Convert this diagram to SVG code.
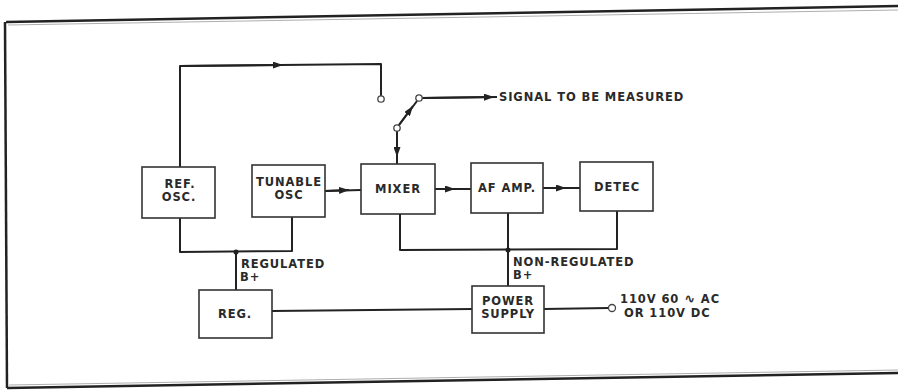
<svg xmlns="http://www.w3.org/2000/svg" width="898" height="390" viewBox="0 0 898 390">
<defs>
<marker id="arr" viewBox="0 0 10 10" refX="10" refY="5" markerWidth="10" markerHeight="7" orient="auto" markerUnits="userSpaceOnUse" preserveAspectRatio="none">
<path d="M0,0 L10,5 L0,10 Z" fill="#222"/>
</marker>
<style>
.box{fill:#fff;stroke:#333;stroke-width:1.6}
.w{fill:none;stroke:#222;stroke-width:2;stroke-linejoin:round}
.t{font-family:"DejaVu Sans","Liberation Sans",sans-serif;font-size:11.5px;font-weight:bold;fill:#2a2a2a;letter-spacing:0.9px}
.c{text-anchor:middle}
.term{fill:#fff;stroke:#444;stroke-width:1.3}
</style>
</defs>
<rect width="898" height="390" fill="#fff"/>
<g id="frame">
<path d="M6,22 L898,6" stroke="#222" stroke-width="2.5" fill="none"/>
<path d="M8,25 L898,10" stroke="#999" stroke-width="0.8" fill="none"/>
<path d="M5,22 L7,388" stroke="#222" stroke-width="2.5" fill="none"/>
<path d="M7,388 L898,373" stroke="#222" stroke-width="2.5" fill="none"/>
<path d="M9,385 L898,370" stroke="#999" stroke-width="0.8" fill="none"/>
</g>
<g id="connectors">
<path class="w" d="M180,167 L180,66 L381,64 L381,96"/>
<path class="w" d="M180,66 L283,65" marker-end="url(#arr)"/>
<path class="w" d="M399,125 L417,101"/>
<path class="w" d="M399,125 L413,106" marker-end="url(#arr)"/>
<path class="w" d="M422,98 L497,97"/>
<path class="w" d="M422,98 L494,97" marker-end="url(#arr)"/>
<path class="w" d="M397,131 L397,164"/>
<path class="w" d="M397,131 L397,157" marker-end="url(#arr)"/>
<path class="w" d="M325,191 L361,190"/>
<path class="w" d="M325,191 L349,190" marker-end="url(#arr)"/>
<path class="w" d="M435,189 L471,189"/>
<path class="w" d="M435,189 L455,189" marker-end="url(#arr)"/>
<path class="w" d="M543,188 L580,188"/>
<path class="w" d="M543,188 L566,188" marker-end="url(#arr)"/>
<path class="w" d="M180,218 L180,252 L292,251 L292,217"/>
<path class="w" d="M236,252 L236,290"/>
<circle cx="236" cy="252" r="2.5" fill="#222"/>
<path class="w" d="M400,214 L400,250 L617,249 L617,211"/>
<path class="w" d="M508,213 L508,286"/>
<circle cx="508" cy="250" r="2.5" fill="#222"/>
<path class="w" d="M272,311 L472,309"/>
<path class="w" d="M544,309 L609,308"/>
<circle class="term" cx="381" cy="99" r="3.2"/>
<circle class="term" cx="419" cy="98" r="3.2"/>
<circle class="term" cx="397" cy="128" r="3.2"/>
<circle class="term" cx="612" cy="308" r="3.5"/>
</g>
<g id="ref-osc"><rect class="box" x="142" y="167" width="73" height="51"/><text class="t c" x="180" y="188">REF.</text><text class="t c" x="179" y="201">OSC.</text></g>
<g id="tunable-osc"><rect class="box" x="252" y="165" width="73" height="52"/><text class="t c" x="289" y="186">TUNABLE</text><text class="t c" x="289" y="199">OSC</text></g>
<g id="mixer"><rect class="box" x="361" y="164" width="74" height="50"/><text class="t c" x="398" y="193">MIXER</text></g>
<g id="af-amp"><rect class="box" x="471" y="163" width="72" height="50"/><text class="t c" x="507" y="192">AF AMP.</text></g>
<g id="detec"><rect class="box" x="580" y="162" width="73" height="49"/><text class="t c" x="617" y="191">DETEC</text></g>
<g id="reg"><rect class="box" x="199" y="290" width="73" height="48"/><text class="t c" x="235" y="318">REG.</text></g>
<g id="power-supply"><rect class="box" x="472" y="286" width="72" height="47"/><text class="t c" x="508" y="305">POWER</text><text class="t c" x="508" y="318">SUPPLY</text></g>
<g id="labels">
<text class="t" x="499" y="101">SIGNAL TO BE MEASURED</text>
<text class="t" x="241" y="268">REGULATED</text>
<text class="t" x="240" y="281">B+</text>
<text class="t" x="513" y="266">NON-REGULATED</text>
<text class="t" x="513" y="279">B+</text>
<text class="t" x="620" y="303">110V 60 <tspan style="font-size:13px;font-weight:bold">∿</tspan> AC</text>
<text class="t" x="624" y="317">OR 110V DC</text>
</g>
</svg>
